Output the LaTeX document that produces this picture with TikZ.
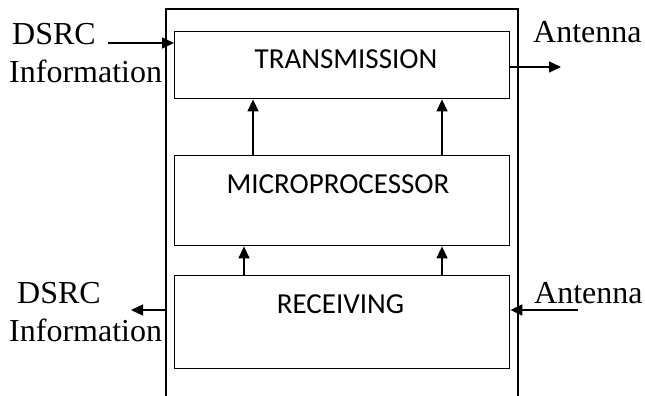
\documentclass[tikz,border=0pt]{standalone}
\usepackage{fontspec}
\setmainfont{Liberation Serif}
\newfontfamily\boxfont{Carlito}
\usetikzlibrary{arrows.meta}
\begin{document}
\begin{tikzpicture}[x=1pt,y=-1pt,
  blk/.style={draw,line width=1.4pt,minimum width=335pt,anchor=north west,inner sep=0pt},
  lbl/.style={font=\boxfont\fontsize{29}{31}\selectfont,inner sep=0pt},
  side/.style={font=\fontsize{32}{34}\selectfont,inner sep=0pt,anchor=base west},
  arr/.style={line width=1.4pt,-{Triangle[length=12pt,width=11pt]}},
  wall/.style={line width=1.4pt}]
\useasboundingbox (0,0) rectangle (645,396);
% outer enclosure (open at the bottom)
\draw[wall] (166,396) -- (166,9) -- (518,9) -- (518,396);
% blocks
\node[blk, minimum height=67pt] (trans) at (174,31) {};
\node[blk, minimum height=90pt] (micro) at (174,155) {};
\node[blk, minimum height=93pt] (recv) at (174,275) {};
\node[lbl] (transtext) at (346,59.5) {TRANSMISSION};
\node[lbl] (microtext) at (338,184) {MICROPROCESSOR};
\node[lbl] (recvtext) at (340.5,304.5) {RECEIVING};
% side labels
\node[side] (dsrc1) at (12,45) {DSRC};
\node[side] (info1) at (9,82) {Information};
\node[side] (ant1) at (533,43) {Antenna};
\node[side] (dsrc2) at (17,303) {DSRC};
\node[side] (info2) at (9,341) {Information};
\node[side] (ant2) at (534,303) {Antenna};
% connectors
\coordinate (inA) at (108,43);
\coordinate (outA) at (561,67);
\coordinate (wallL) at (166,310);
\coordinate (outB) at (131,310);
\coordinate (inB) at (578,310);
\coordinate (c1) at (253,0);
\coordinate (c2) at (442,0);
\coordinate (c3) at (244,0);
\draw[arr] (inA) -- (inA -| trans.west);
\draw[arr] (trans.east |- outA) -- (outA);
\draw[arr] (wallL) -- (outB);
\draw[arr] (inB) -- (inB -| recv.east);
\draw[arr] (micro.north -| c1) -- (trans.south -| c1);
\draw[arr] (micro.north -| c2) -- (trans.south -| c2);
\draw[arr] (recv.north -| c3) -- (micro.south -| c3);
\draw[arr] (recv.north -| c2) -- (micro.south -| c2);
\end{tikzpicture}
\end{document}
